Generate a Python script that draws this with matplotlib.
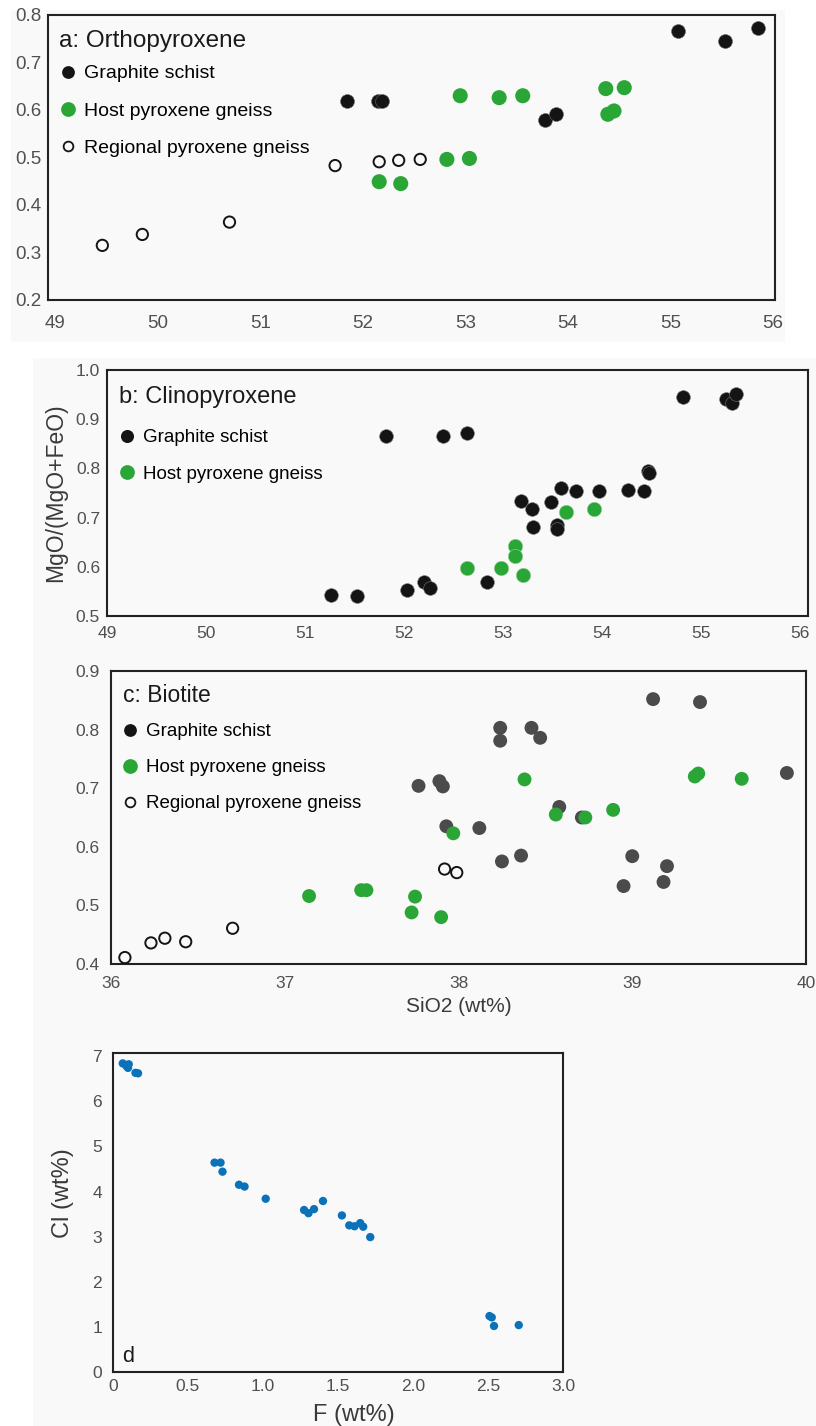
import numpy as np
import matplotlib
matplotlib.use("Agg")
import matplotlib.pyplot as plt
from matplotlib.lines import Line2D
from matplotlib.patches import Rectangle
from matplotlib import font_manager

# --- data ---
# a: orthopyroxene, SiO2 vs MgO/(MgO+FeO)
opx_gs_x = [51.85, 52.15, 52.19, 53.78, 53.88, 55.07, 55.53, 55.85]
opx_gs_y = [0.619, 0.619, 0.619, 0.579, 0.591, 0.766, 0.745, 0.772]
opx_host_x = [52.16, 52.37, 52.82, 53.04, 52.95, 53.33, 53.56, 54.37, 54.55, 54.39, 54.45]
opx_host_y = [0.449, 0.445, 0.496, 0.498, 0.630, 0.626, 0.630, 0.645, 0.647, 0.591, 0.598]
opx_reg_x = [49.46, 49.85, 50.70, 51.73, 52.16, 52.35, 52.56]
opx_reg_y = [0.315, 0.338, 0.364, 0.483, 0.491, 0.494, 0.496]

# b: clinopyroxene
cpx_gs_x = [51.26, 51.52, 51.82, 52.03, 52.20, 52.26, 52.39, 52.64, 52.84, 53.18, 53.29, 53.30, 53.48,
            53.54, 53.54, 53.59, 53.74, 53.97, 54.26, 54.42, 54.46, 54.47, 54.82, 55.25, 55.31, 55.35]
cpx_gs_y = [0.543, 0.541, 0.865, 0.552, 0.569, 0.556, 0.865, 0.871, 0.569, 0.733, 0.718, 0.681, 0.731,
            0.684, 0.677, 0.761, 0.755, 0.754, 0.757, 0.754, 0.794, 0.790, 0.946, 0.942, 0.932, 0.952]
cpx_host_x = [52.64, 52.98, 53.12, 53.12, 53.20, 53.64, 53.92]
cpx_host_y = [0.598, 0.598, 0.643, 0.622, 0.584, 0.711, 0.717]

# c: biotite
bt_gs_x = [37.77, 37.89, 37.91, 37.93, 38.12, 38.24, 38.24, 38.42, 38.47, 38.25, 38.36, 38.58, 38.71,
           39.12, 39.39, 39.00, 39.20, 39.18, 38.95, 39.89]
bt_gs_y = [0.704, 0.712, 0.703, 0.635, 0.632, 0.803, 0.781, 0.803, 0.786, 0.575, 0.585, 0.668, 0.650,
           0.852, 0.847, 0.584, 0.567, 0.540, 0.533, 0.726]
bt_host_x = [37.14, 37.44, 37.47, 37.75, 37.73, 37.90, 37.97, 38.38, 38.56, 38.73, 38.89, 39.36, 39.38, 39.63]
bt_host_y = [0.516, 0.526, 0.526, 0.515, 0.488, 0.480, 0.623, 0.715, 0.655, 0.650, 0.663, 0.720, 0.725, 0.716]
bt_reg_x = [36.08, 36.23, 36.31, 36.43, 36.70, 37.92, 37.99]
bt_reg_y = [0.411, 0.436, 0.444, 0.438, 0.461, 0.562, 0.556]

# d: F vs Cl in biotite
f_wt = [0.065, 0.09, 0.105, 0.10, 0.15, 0.167, 0.677, 0.717, 0.73, 0.84, 0.877, 1.018, 1.274, 1.303,
        1.34, 1.40, 1.526, 1.575, 1.61, 1.648, 1.668, 1.715, 2.51, 2.525, 2.54, 2.705]
cl_wt = [6.84, 6.78, 6.82, 6.74, 6.63, 6.62, 4.64, 4.64, 4.44, 4.15, 4.11, 3.84, 3.59, 3.52,
         3.61, 3.79, 3.47, 3.25, 3.23, 3.30, 3.22, 2.99, 1.24, 1.21, 1.02, 1.04]

px_ticks = [49, 50, 51, 52, 53, 54, 55, 56]
px_ticklabels = ["49", "50", "51", "52", "53", "54", "55", "56"]
opx_yticks = [0.2, 0.3, 0.4, 0.5, 0.6, 0.7, 0.8]
opx_yticklabels = ["0.2", "0.3", "0.4", "0.5", "0.6", "0.7", "0.8"]
cpx_yticks = [0.5, 0.6, 0.7, 0.8, 0.9, 1.0]
cpx_yticklabels = ["0.5", "0.6", "0.7", "0.8", "0.9", "1.0"]
bt_xticks = [36, 37, 38, 39, 40]
bt_xticklabels = ["36", "37", "38", "39", "40"]
bt_yticks = [0.4, 0.5, 0.6, 0.7, 0.8, 0.9]
bt_yticklabels = ["0.4", "0.5", "0.6", "0.7", "0.8", "0.9"]
d_xticks = [0, 0.5, 1.0, 1.5, 2.0, 2.5, 3.0]
d_xticklabels = ["0", "0.5", "1.0", "1.5", "2.0", "2.5", "3.0"]
d_yticks = [0, 1, 2, 3, 4, 5, 6, 7]
d_yticklabels = ["0", "1", "2", "3", "4", "5", "6", "7"]

BLACK = "#141414"
GREEN = "#2aa637"
DGRAY = "#4b4b4b"
BLUE = "#0a72b9"
BG = "#f9f9f9"
TICK = "#505050"
LAB = "#3a3a3a"

plt.rcParams['font.family'] = ['Liberation Sans', 'DejaVu Sans']
names = {f.name for f in font_manager.fontManager.ttflist}
narrow = 'Liberation Sans Narrow' if 'Liberation Sans Narrow' in names else 'Liberation Sans'

W, H = 816, 1426
fig = plt.figure(figsize=(W / 100, H / 100), dpi=100)
fig.patch.set_facecolor("white")

# light grey panel backgrounds
fig.add_artist(Rectangle((11 / W, 1 - 342 / H), 774 / W, 332 / H, transform=fig.transFigure,
                         facecolor=BG, edgecolor="none", zorder=0))
fig.add_artist(Rectangle((33 / W, 0), 783 / W, 1 - 358 / H, transform=fig.transFigure,
                         facecolor=BG, edgecolor="none", zorder=0))


def box(l, t, r, b):
    ax = fig.add_axes([l / W, 1 - b / H, (r - l) / W, (b - t) / H])
    ax.set_facecolor(BG)
    for s in ax.spines.values():
        s.set_linewidth(1.5)
        s.set_color("#222222")
    return ax


def style_ticks(ax, size, xpad, ypad, family=None):
    ax.tick_params(length=0, labelsize=size, labelcolor=TICK)
    ax.tick_params(axis="x", pad=xpad)
    ax.tick_params(axis="y", pad=ypad)
    if family:
        for lab in ax.get_xticklabels() + ax.get_yticklabels():
            lab.set_family(family)


def legend(ax, handles, labels, x_px, top_px, fs, spacing, textpad):
    ax.legend(handles, labels, loc="upper left", bbox_to_anchor=(x_px / W, 1 - top_px / H),
              bbox_transform=fig.transFigure, frameon=False, fontsize=fs, borderpad=0,
              borderaxespad=0, handlelength=1.0, handletextpad=textpad, labelspacing=spacing)


def dot(color, ms, face=None, mew=0):
    return Line2D([], [], ls="", marker="o", markersize=ms, markerfacecolor=face or color,
                  markeredgecolor=color, markeredgewidth=mew)


# ---------- a: Orthopyroxene ----------
ax = box(48, 15, 775, 300)
ax.scatter(opx_reg_x, opx_reg_y, s=66, facecolor="none", edgecolor=BLACK, linewidth=1.4, zorder=3)
ax.scatter(opx_host_x, opx_host_y, s=118, color=GREEN, edgecolor="none", zorder=3)
ax.scatter(opx_gs_x, opx_gs_y, s=100, color=BLACK, edgecolor="#666666", linewidth=0.4, zorder=4)
ax.set_xlim(48.93, 56.02)
ax.set_ylim(0.2, 0.8)
ax.set_xticks(px_ticks, px_ticklabels)
ax.set_yticks(opx_yticks, opx_yticklabels)
style_ticks(ax, 13.5, 11, 5, narrow)
fig.text(59 / W, 1 - 47 / H, "a: Orthopyroxene", fontsize=17.5, color="#1a1a1a", va="baseline")
legend(ax, [dot(BLACK, 9.2), dot(GREEN, 10.6), dot(BLACK, 7.0, face="none", mew=1.3)],
       ["Graphite schist", "Host pyroxene gneiss", "Regional pyroxene gneiss"],
       58.3, 64.8, 14, 1.01, 0.32)

# ---------- b: Clinopyroxene ----------
ax = box(107, 370, 808, 616)
ax.scatter(cpx_gs_x, cpx_gs_y, s=98, color=BLACK, edgecolor="#777777", linewidth=0.4, zorder=3)
ax.scatter(cpx_host_x, cpx_host_y, s=108, color=GREEN, edgecolor="#9ad39f", linewidth=0.4, zorder=4)
ax.set_xlim(49.0, 56.08)
ax.set_ylim(0.5, 1.0)
ax.set_xticks(px_ticks, px_ticklabels)
ax.set_yticks(cpx_yticks, cpx_yticklabels)
style_ticks(ax, 12.5, 7, 5)
ax.set_ylabel("MgO/(MgO+FeO)", fontsize=16.5, color=LAB, labelpad=6)
fig.text(119 / W, 1 - 403 / H, "b: Clinopyroxene", fontsize=17, color="#1a1a1a", va="baseline")
legend(ax, [dot(BLACK, 9.4), dot(GREEN, 10.6)],
       ["Graphite schist", "Host pyroxene gneiss"], 117.6, 429.3, 13.5, 1.03, 0.35)

# ---------- c: Biotite ----------
ax = box(111, 671, 806, 964)
ax.scatter(bt_reg_x, bt_reg_y, s=66, facecolor="none", edgecolor=BLACK, linewidth=1.4, zorder=3)
ax.scatter(bt_gs_x, bt_gs_y, s=100, color=DGRAY, edgecolor="none", zorder=3)
ax.scatter(bt_host_x, bt_host_y, s=100, color=GREEN, edgecolor="none", zorder=4)
ax.set_xlim(36, 40)
ax.set_ylim(0.4, 0.9)
ax.set_xticks(bt_xticks, bt_xticklabels)
ax.set_yticks(bt_yticks, bt_yticklabels)
style_ticks(ax, 12.5, 9, 8)
ax.set_xlabel("SiO2 (wt%)", fontsize=15, color=LAB, labelpad=4)
fig.text(123 / W, 1 - 702 / H, "c: Biotite", fontsize=16.5, color="#1a1a1a", va="baseline")
legend(ax, [dot(BLACK, 9.2), dot(GREEN, 10.6), dot(BLACK, 7.0, face="none", mew=1.3)],
       ["Graphite schist", "Host pyroxene gneiss", "Regional pyroxene gneiss"],
       120.6, 723.3, 13.5, 1.0, 0.35)

# ---------- d: F vs Cl ----------
ax = box(113, 1053, 563, 1372)
ax.scatter(f_wt, cl_wt, s=36, color=BLUE, edgecolor="none", zorder=3)
ax.set_xlim(0, 3.0)
ax.set_ylim(0, 7.07)
ax.set_xticks(d_xticks, d_xticklabels)
ax.set_yticks(d_yticks, d_yticklabels)
style_ticks(ax, 12.5, 5, 8)
fig.text(354 / W, 1 - 1415 / H, "F (wt%)", fontsize=17, color=LAB, ha="center", va="center")
fig.text(63 / W, 1 - 1193 / H, "Cl (wt%)", fontsize=17, color=LAB, ha="center", va="center",
         rotation=90)
fig.text(122 / W, 1 - 1362 / H, "d", fontsize=15.5, color="#1a1a1a", va="baseline")

fig.savefig("out.png", dpi=100, facecolor=fig.get_facecolor())
